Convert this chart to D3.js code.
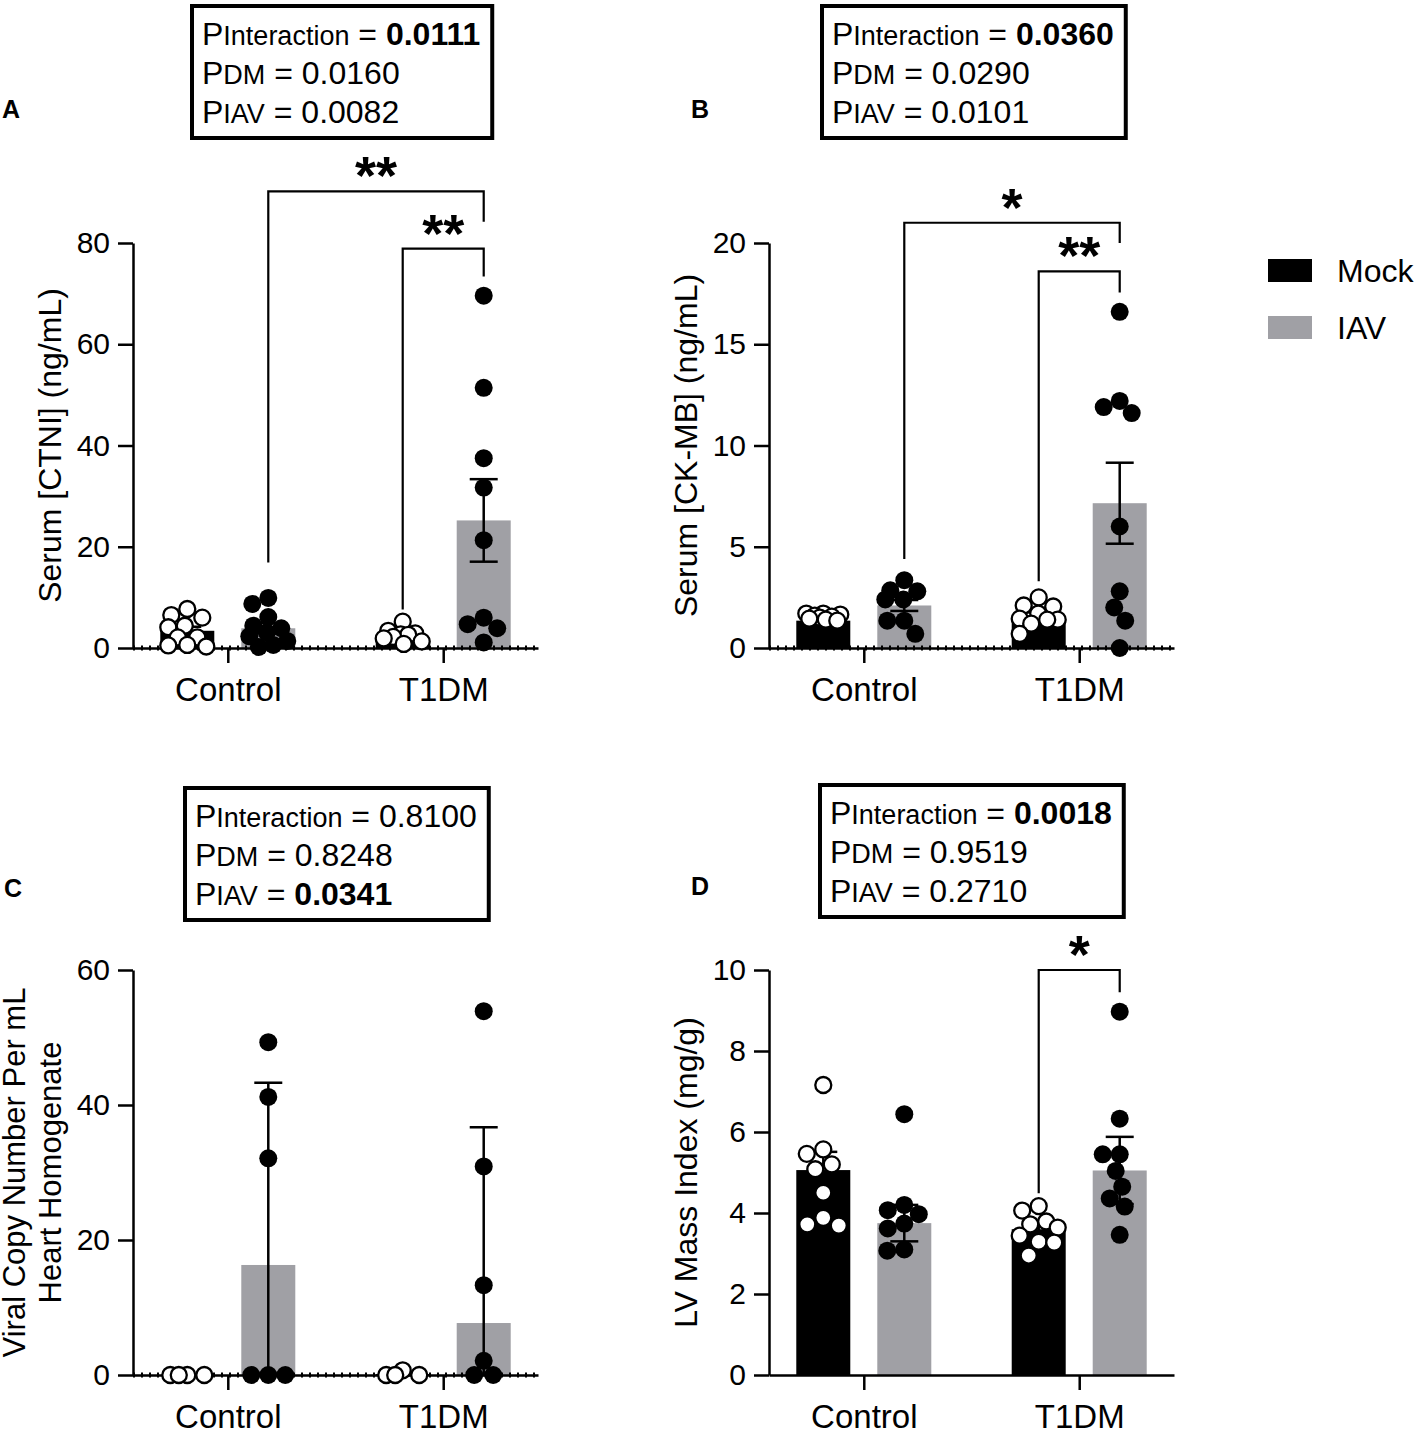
<!DOCTYPE html>
<html>
<head>
<meta charset="utf-8">
<script src="https://cdn.jsdelivr.net/npm/d3@7"></script>
<style>
  body { margin: 0; background: #fff; }
  text { font-family: "Liberation Sans", Arial, Helvetica, sans-serif; fill: #000; }
</style>
</head>
<body>
<svg id="fig" width="1418" height="1433"></svg>
<script>
// ---------------- data ----------------
const groups = ['Control', 'T1DM'];
const series = ['Mock', 'IAV'];
const seriesColors = ['#000000', '#a0a0a5'];

// A: serum cardiac troponin I (ng/mL)  [group][series]
const ctniTicks = [0, 20, 40, 60, 80];
const ctniMean = [[3.4, 3.9], [2.0, 25.2]];
const ctniErr = [[0.8, 1.0], [0.45, 8.15]];
const ctniPoints = [
  [[7.7, 6.5, 6.0, 4.4, 4.1, 2.1, 2.1, 0.6, 0.5, 0.3], [9.9, 8.7, 6.1, 4.4, 3.9, 3.1, 2.3, 1.4, 0.6, 0.2]],
  [[5.2, 3.4, 2.9, 2.7, 2.6, 2.2, 1.9, 1.3, 0.8], [69.6, 51.4, 37.5, 31.7, 21.3, 6.0, 4.7, 3.9, 1.1]]
];
const ctniP = [0.0111, 0.0160, 0.0082]; // interaction, DM, IAV

// B: serum CK-MB (ng/mL)
const ckmbTicks = [0, 5, 10, 15, 20];
const ckmbMean = [[1.35, 2.1], [1.56, 7.15]];
const ckmbErr = [[0.1, 0.27], [0.2, 2.0]];
const ckmbPoints = [
  [[1.7, 1.7, 1.65, 1.6, 1.55, 1.5, 1.45, 1.4, 1.35], [3.35, 2.85, 2.8, 2.4, 2.4, 1.35, 1.35, 0.7]],
  [[2.5, 2.1, 2.05, 1.7, 1.45, 1.4, 1.4, 1.2, 0.7], [16.6, 12.2, 11.9, 11.6, 6.0, 2.8, 2.0, 1.35, 0]]
];
const ckmbP = [0.0360, 0.0290, 0.0101];

// C: viral copy number per mL heart homogenate
const viralTicks = [0, 20, 40, 60];
const viralMean = [[0, 16.3], [0.15, 7.7]];
const viralErr = [[0, 27], [0.2, 29]];
const viralPoints = [
  [[0, 0, 0, 0], [49.3, 41.2, 32.1, 0, 0, 0]],
  [[0.7, 0, 0, 0], [53.9, 30.9, 13.3, 2.1, 0, 0]]
];
const viralP = [0.8100, 0.8248, 0.0341];

// D: LV mass index (mg/g)
const lvTicks = [0, 2, 4, 6, 8, 10];
const lvMean = [[5.06, 3.75], [3.6, 5.05]];
const lvErr = [[0.45, 0.45], [0.15, 0.83]];
const lvPoints = [
  [[7.16, 5.57, 5.46, 5.2, 5.08, 4.5, 3.88, 3.72, 3.69], [6.44, 4.2, 4.07, 3.97, 3.74, 3.62, 3.1, 3.07]],
  [[4.17, 4.06, 3.79, 3.72, 3.64, 3.44, 3.29, 3.27, 2.95], [8.97, 6.33, 5.45, 5.45, 5.04, 4.65, 4.36, 4.16, 3.46]]
];
const lvP = [0.0018, 0.9519, 0.2710];

// ---------------- layout ----------------
const plotW = 405, plotH = 405;
const axisColor = '#000';

const panels = [
  { label: 'A', lx: 2, ly: 118, left: 133, top: 243, domain: [0, 80], ticks: ctniTicks,
    mean: ctniMean, err: ctniErr, points: ctniPoints, p: ctniP, zeroLine: true,
    title: ['Serum [CTNI] (ng/mL)'], titleX: [61], boxX: 202, boxY: 45,
    brackets: [
      { from: [0, 1], to: [1, 1], top: 90.2, leg1: 16.9, leg2: 84.2, mark: '**' },
      { from: [1, 0], to: [1, 1], top: 78.9, leg1: 7.6, leg2: 73.4, mark: '**' }
    ] },
  { label: 'B', lx: 691, ly: 118, left: 769, top: 243, domain: [0, 20], ticks: ckmbTicks,
    mean: ckmbMean, err: ckmbErr, points: ckmbPoints, p: ckmbP, zeroLine: true,
    title: ['Serum [CK-MB] (ng/mL)'], titleX: [697], boxX: 832, boxY: 45,
    brackets: [
      { from: [0, 1], to: [1, 1], top: 21.0, leg1: 4.4, leg2: 20.0, mark: '*' },
      { from: [1, 0], to: [1, 1], top: 18.6, leg1: 3.3, leg2: 17.55, mark: '**' }
    ] },
  { label: 'C', lx: 4, ly: 897, left: 133, top: 970, domain: [0, 60], ticks: viralTicks,
    mean: viralMean, err: viralErr, points: viralPoints, p: viralP, zeroLine: true,
    title: ['Viral Copy Number Per mL', 'Heart Homogenate'], titleX: [25, 61], boxX: 195, boxY: 827,
    brackets: [] },
  { label: 'D', lx: 691, ly: 895, left: 769, top: 970, domain: [0, 10], ticks: lvTicks,
    mean: lvMean, err: lvErr, points: lvPoints, p: lvP, zeroLine: false,
    title: ['LV Mass Index (mg/g)'], titleX: [697], boxX: 830, boxY: 824,
    brackets: [
      { from: [1, 0], to: [1, 1], top: 10.0, leg1: 4.49, leg2: 9.45, mark: '*' }
    ] }
];

const svg = d3.select('#fig');

// simple swarm: place points top-down, nearest to centre with least overlap
function swarm(values, y, rad, maxOff) {
  const order = values.map((v, i) => i).sort((a, b) => values[b] - values[a]);
  const placed = [];
  const offs = new Array(values.length).fill(0);
  order.forEach(i => {
    const py = y(values[i]);
    let best = 0, bestScore = Infinity;
    for (let d = 0; d <= maxOff; d += 0.5) {
      [-d, d].forEach(c => {
        let ov = 0;
        placed.forEach(q => {
          const dist = Math.hypot(q.x - c, q.y - py);
          ov = Math.max(ov, 2 * rad - 1 - dist);
        });
        const score = Math.max(ov, 0) * 1000 + Math.abs(c);
        if (score < bestScore) { bestScore = score; best = c; }
      });
    }
    offs[i] = best;
    placed.push({ x: best, y: py });
  });
  return offs;
}

panels.forEach(pn => {
  const g = svg.append('g');
  const right = pn.left + plotW, bottom = pn.top + plotH;

  const x = d3.scalePoint().domain(groups).range([pn.left, right]).padding(0.44);
  const inner = d3.scaleBand().domain(series).range([-67.5, 67.5]).paddingInner(1 / 3);
  const y = d3.scaleLinear().domain(pn.domain).range([bottom, pn.top]);
  const bw = inner.bandwidth();
  const cx = (gi, si) => x(groups[gi]) + inner(series[si]) + bw / 2;

  // bars
  groups.forEach((grp, gi) => {
    series.forEach((s, si) => {
      const v = pn.mean[gi][si];
      g.append('rect')
        .attr('x', x(grp) + inner(s))
        .attr('y', y(v))
        .attr('width', bw)
        .attr('height', y(0) - y(v))
        .attr('fill', seriesColors[si]);
    });
  });

  // axes
  const yAxis = d3.axisLeft(y).tickValues(pn.ticks).tickSize(15).tickPadding(8).tickSizeOuter(0);
  const yG = g.append('g').attr('transform', 'translate(' + pn.left + ',0)').call(yAxis);
  const xAxis = d3.axisBottom(x).tickSize(15).tickSizeOuter(0);
  const xG = g.append('g').attr('transform', 'translate(0,' + bottom + ')').call(xAxis);
  [yG, xG].forEach(a => {
    a.selectAll('path, line').attr('stroke', axisColor).attr('stroke-width', 2.5);
    a.selectAll('text').attr('fill', '#000').style('font-family', '"Liberation Sans", Arial, sans-serif');
  });
  yG.selectAll('text').style('font-size', '30px');
  xG.selectAll('text').style('font-size', '33px').attr('dy', null).attr('y', 53);

  if (pn.zeroLine) {
    g.append('line')
      .attr('x1', pn.left).attr('x2', right)
      .attr('y1', y(0)).attr('y2', y(0))
      .attr('stroke', '#000').attr('stroke-width', 5)
      .attr('stroke-dasharray', '2 6');
  }

  // error bars
  groups.forEach((grp, gi) => {
    series.forEach((s, si) => {
      const m = pn.mean[gi][si], e = pn.err[gi][si];
      if (e <= 0) return;
      const c = cx(gi, si);
      const lo = Math.max(0, m - e), hi = m + e;
      g.append('line').attr('x1', c).attr('x2', c).attr('y1', y(lo)).attr('y2', y(hi))
        .attr('stroke', '#000').attr('stroke-width', 2.5);
      [lo, hi].forEach(v => {
        g.append('line').attr('x1', c - 14).attr('x2', c + 14).attr('y1', y(v)).attr('y2', y(v))
          .attr('stroke', '#000').attr('stroke-width', 2.5);
      });
    });
  });

  // points
  groups.forEach((grp, gi) => {
    series.forEach((s, si) => {
      const vals = pn.points[gi][si];
      const offs = swarm(vals, y, 9, 19);
      g.append('g').selectAll('circle').data(vals).join('circle')
        .attr('cx', (d, i) => cx(gi, si) + offs[i])
        .attr('cy', d => y(d))
        .attr('r', si === 0 ? 8 : 9)
        .attr('fill', si === 0 ? '#fff' : '#000')
        .attr('stroke', '#000')
        .attr('stroke-width', si === 0 ? 2.3 : 0);
    });
  });

  // significance brackets
  pn.brackets.forEach(b => {
    const x1 = cx(b.from[0], b.from[1]), x2 = cx(b.to[0], b.to[1]);
    const yt = y(b.top);
    g.append('path')
      .attr('d', 'M' + x1 + ',' + y(b.leg1) + 'V' + yt + 'H' + x2 + 'V' + y(b.leg2))
      .attr('fill', 'none').attr('stroke', '#000').attr('stroke-width', 2.2);
    g.append('text')
      .attr('x', (x1 + x2) / 2).attr('y', yt - 26 + 29)
      .attr('text-anchor', 'middle')
      .style('font-size', '54px').style('font-weight', 'bold')
      .text(b.mark);
  });

  // y title
  const yMid = (pn.top + bottom) / 2;
  pn.title.forEach((t, i) => {
    g.append('text')
      .attr('transform', 'translate(' + pn.titleX[i] + ',' + yMid + ') rotate(-90)')
      .attr('text-anchor', 'middle')
      .style('font-size', pn.title.length > 1 ? '31px' : '32px')
      .text(t);
  });

  // panel letter
  g.append('text').attr('x', pn.lx).attr('y', pn.ly)
    .style('font-size', '25px').style('font-weight', 'bold').text(pn.label);

  // two-way ANOVA box
  const names = ['Interaction', 'DM', 'IAV'];
  const interSig = pn.p[0] < 0.05;
  const box = g.append('text').attr('x', pn.boxX).attr('y', pn.boxY);
  names.forEach((nm, i) => {
    const bold = interSig ? i === 0 : (i > 0 && pn.p[i] < 0.05);
    const line = box.append('tspan').attr('x', pn.boxX).attr('y', pn.boxY + i * 39);
    line.append('tspan').style('font-size', '32px').text('P');
    line.append('tspan').style('font-size', '27px').text(nm);
    line.append('tspan').style('font-size', '32px').text(' = ');
    line.append('tspan').style('font-size', '32px').style('font-weight', bold ? 'bold' : 'normal')
      .text(pn.p[i].toFixed(4));
  });
  const bb = box.node().getBBox();
  g.insert('rect', () => box.node())
    .attr('x', bb.x - 10).attr('y', bb.y - 10)
    .attr('width', bb.width + 22).attr('height', bb.height + 18)
    .attr('fill', 'none').attr('stroke', '#000').attr('stroke-width', 4);
});

// legend
const legend = svg.append('g');
series.forEach((s, i) => {
  legend.append('rect').attr('x', 1268).attr('y', 259 + i * 57).attr('width', 44).attr('height', 23)
    .attr('fill', seriesColors[i]);
  legend.append('text').attr('x', 1337).attr('y', 282 + i * 57)
    .style('font-size', '32px').text(s);
});
</script>
</body>
</html>
